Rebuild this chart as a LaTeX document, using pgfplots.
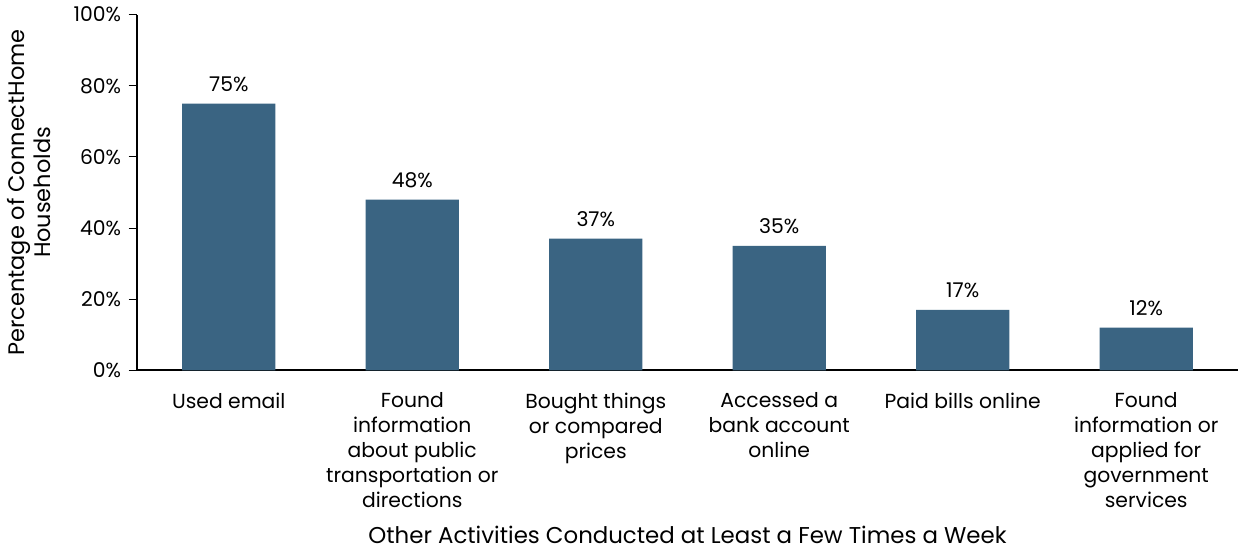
\documentclass[border=0pt]{standalone}
\usepackage{pgfplots}
\pgfplotsset{compat=1.18}
\usepackage{fontspec}
\setmainfont{Poppins}
\definecolor{barc}{HTML}{3A6482}
\begin{document}
\begin{tikzpicture}
\begin{axis}[
  scale only axis,
  width=520pt, height=168pt,
  xmin=-0.5, xmax=5.5,
  ymin=0, ymax=100,
  axis x line*=bottom,
  axis y line*=left,
  axis line style={line width=0.9pt},
  ytick={0,20,...,100},
  yticklabel={\pgfmathprintnumber{\tick}\%},
  /pgf/number format/assume math mode=true,
  tick align=outside,
  major tick length=4pt,
  tick style={black, line width=0.5pt},
  xtick={0,...,5},
  x tick style={draw=none},
  xticklabels={Used email, {Found\\information\\about public\\transportation or\\directions}, {Bought things\\or compared\\prices}, {Accessed a\\bank account\\online}, Paid bills online, {Found\\information or\\applied for\\government\\services}},
  xticklabel style={align=center, font=\fontsize{9.6}{11.8}\selectfont, yshift=-3pt},
  extra x ticks={-0.5,0.5,1.5,2.5,3.5,4.5,5.5},
  extra x tick labels={},
  extra x tick style={tick style={draw=black, line width=0.5pt}, major tick length=5pt},
  yticklabel style={font=\fontsize{9.6}{12}\selectfont},
  xlabel={Other Activities Conducted at Least a Few Times a Week},
  xlabel style={font=\fontsize{10.8}{12}\selectfont, yshift=7pt},
  ylabel={Percentage of ConnectHome\\Households},
  ylabel style={align=center, font=\fontsize{10.6}{12.4}\selectfont, yshift=4pt},
  ybar, bar width=44pt,
  nodes near coords={\pgfmathprintnumber{\pgfplotspointmeta}\%},
  nodes near coords style={font=\fontsize{9.6}{12}\selectfont, black, yshift=2pt},
  clip=false,
]
\addplot[fill=barc, draw=none] coordinates {(0,75) (1,48) (2,37) (3,35) (4,17) (5,12)};
\end{axis}
\end{tikzpicture}
\end{document}
